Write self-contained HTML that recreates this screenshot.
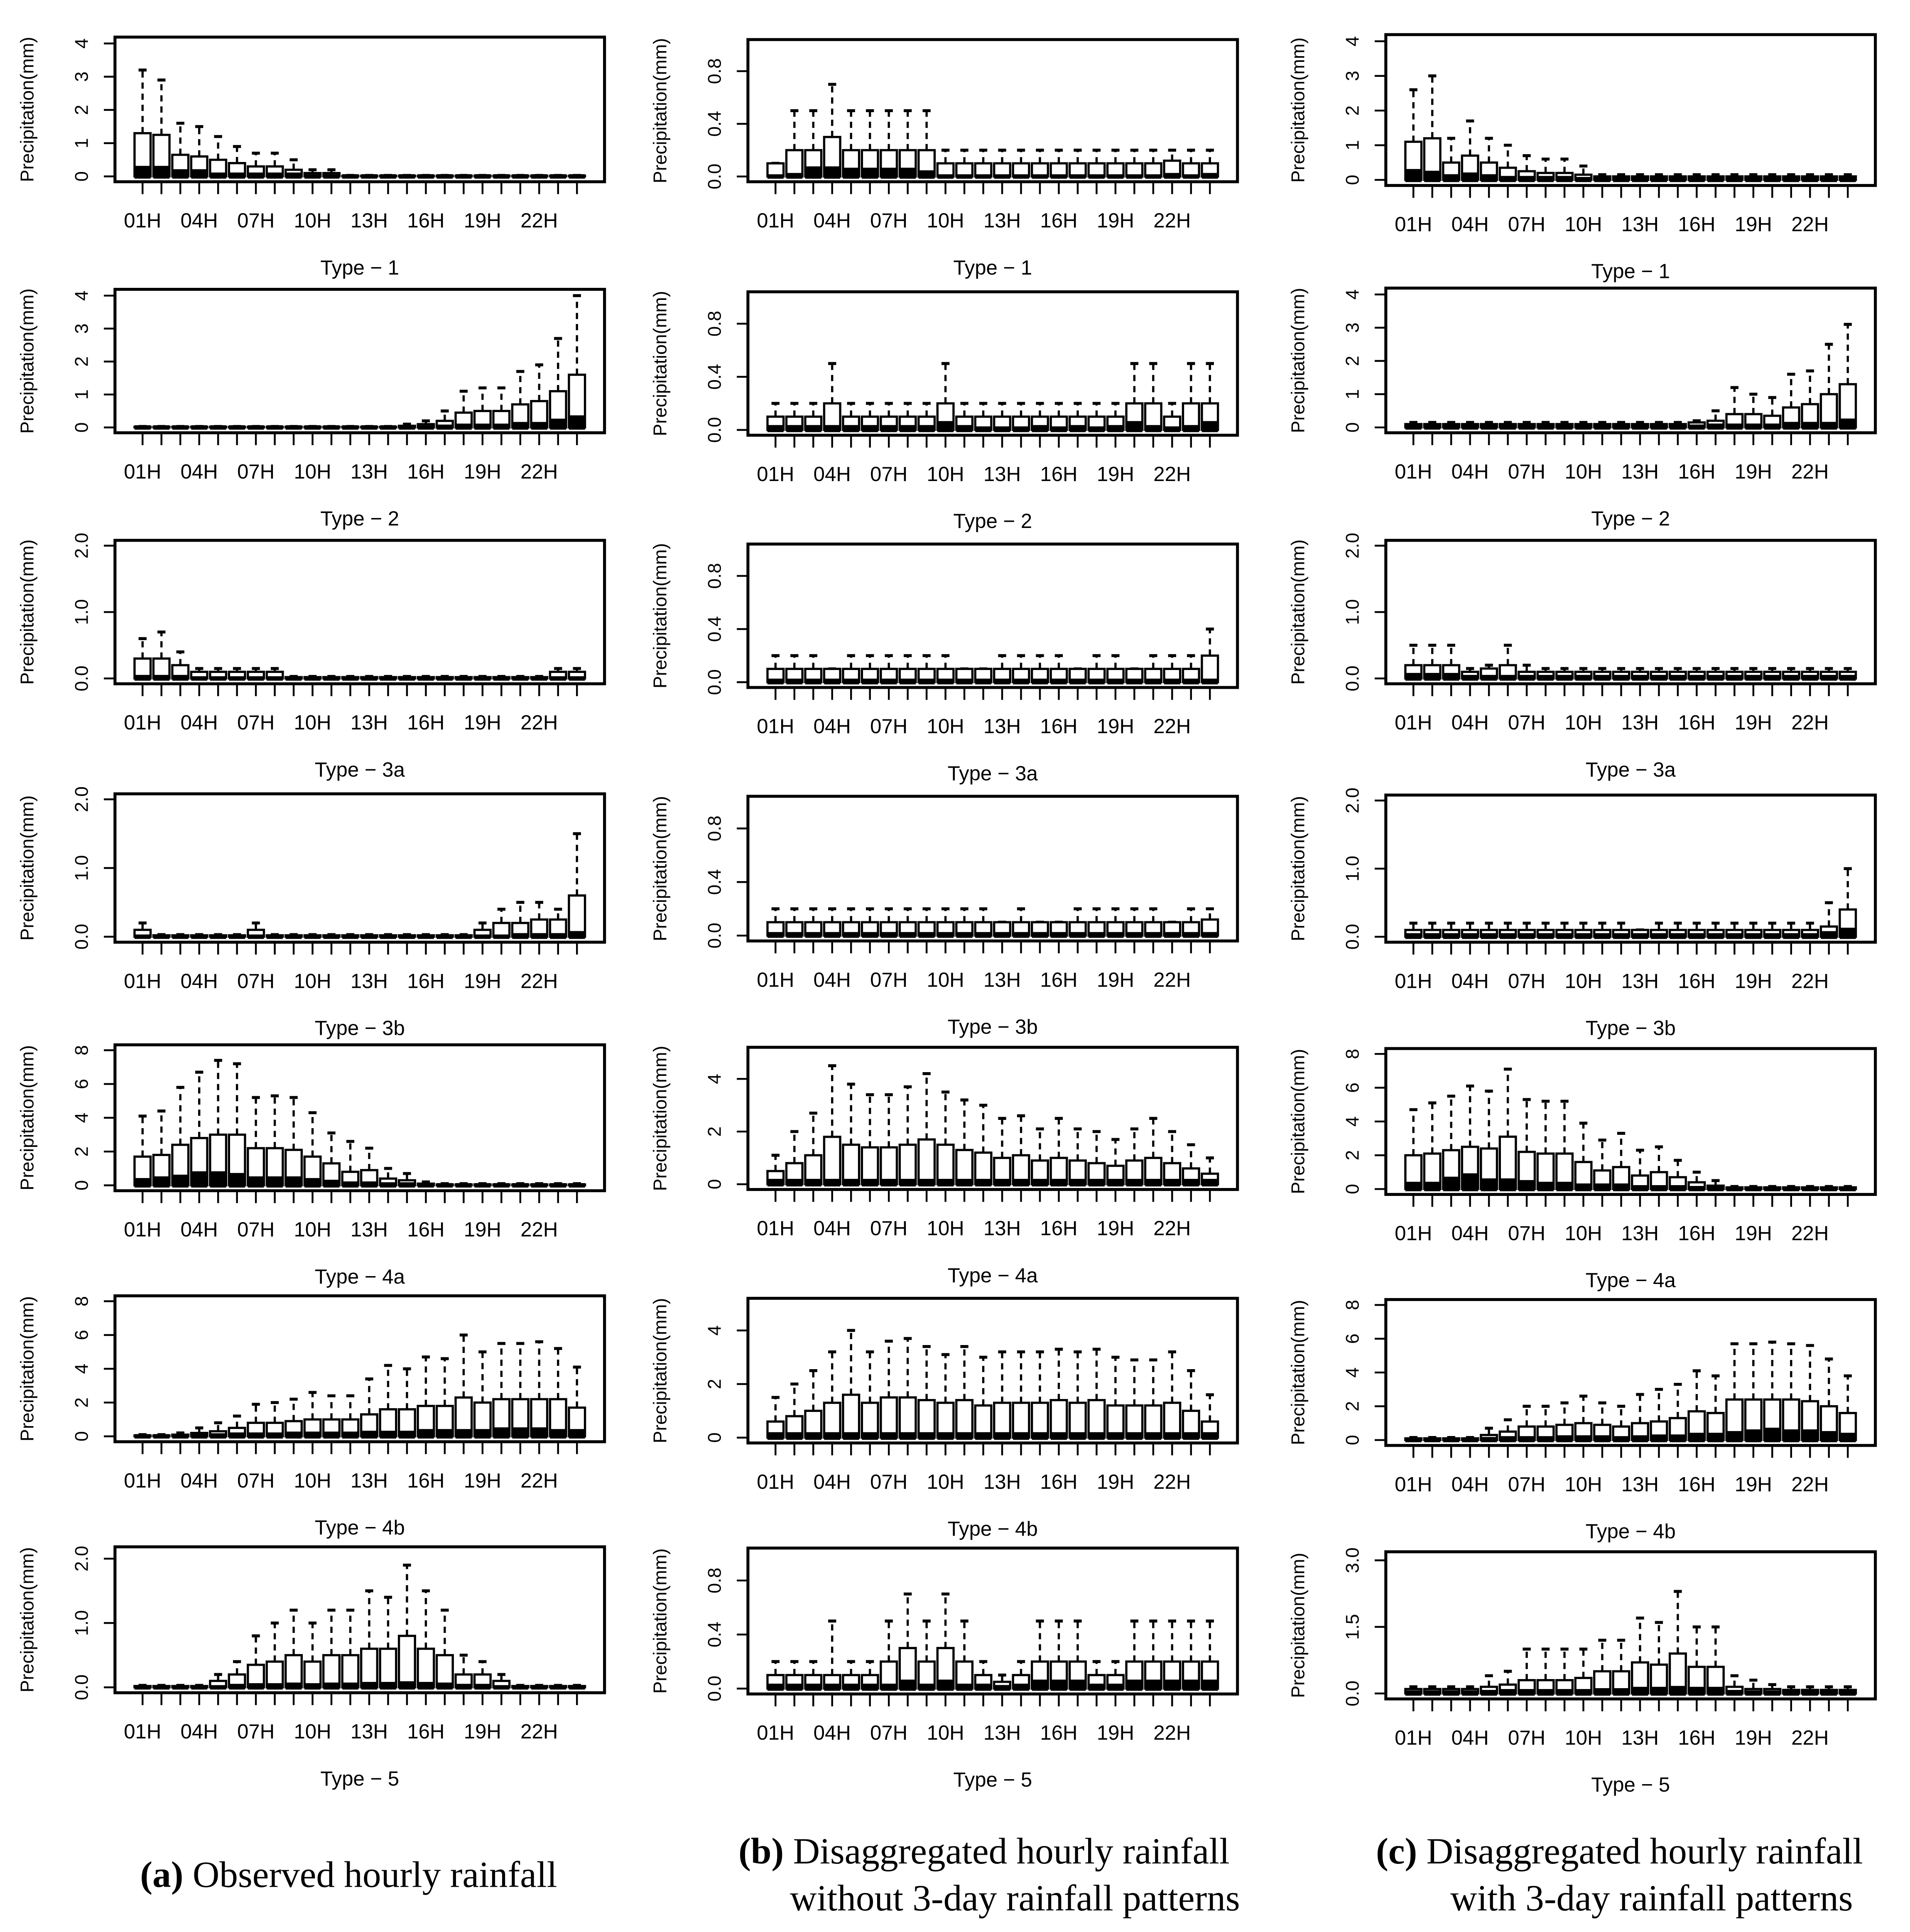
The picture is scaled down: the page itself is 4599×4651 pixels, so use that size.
<!DOCTYPE html>
<html><head><meta charset="utf-8">
<style>
html,body{margin:0;padding:0;background:#fff;}
svg{display:block;}
.tk{font-family:"Liberation Sans Narrow","Liberation Sans",sans-serif;font-size:16.5px;fill:#000;}
.yt{font-family:"Liberation Sans",sans-serif;font-size:15px;fill:#000;}
.cap{font-family:"Liberation Serif",serif;font-size:30px;fill:#000;}
</style></head>
<body>
<svg id="chart" xmlns="http://www.w3.org/2000/svg" width="4599" height="4651" viewBox="0 0 1545 1562.5">
<rect x="0" y="0" width="1545" height="1563" fill="#fff"/>
<text class="cap" x="282" y="1526" text-anchor="middle"><tspan font-weight="bold">(a)</tspan>  Observed hourly rainfall</text>
<text class="cap" x="796" y="1507" text-anchor="middle"><tspan font-weight="bold">(b)</tspan>  Disaggregated hourly rainfall</text>
<text class="cap" x="821" y="1545" text-anchor="middle">without 3-day rainfall patterns</text>
<text class="cap" x="1310" y="1507" text-anchor="middle"><tspan font-weight="bold">(c)</tspan>  Disaggregated hourly rainfall</text>
<text class="cap" x="1336" y="1545" text-anchor="middle">with 3-day rainfall patterns</text>
</svg>
<script>
const hours = ["01H","02H","03H","04H","05H","06H","07H","08H","09H","10H","11H","12H","13H","14H","15H","16H","17H","18H","19H","20H","21H","22H","23H","24H"];
const typeNames = ["Type \u2212 1","Type \u2212 2","Type \u2212 3a","Type \u2212 3b","Type \u2212 4a","Type \u2212 4b","Type \u2212 5"];

// column a: observed
const q3_a1 = [1.3,1.25,0.65,0.6,0.5,0.4,0.3,0.3,0.2,0.1,0.1,0.02,0.02,0.02,0.02,0.02,0.02,0.02,0.02,0.02,0.02,0.02,0.02,0.02];
const md_a1 = [0.25,0.25,0.15,0.15,0.05,0.05,0.05,0.05,0.05,0,0,0,0,0,0,0,0,0,0,0,0,0,0,0];
const wh_a1 = [3.2,2.9,1.6,1.5,1.2,0.9,0.7,0.7,0.5,0.2,0.2,0.03,0.03,0.03,0.03,0.03,0.03,0.03,0.03,0.03,0.03,0.03,0.03,0.03];
const q3_a2 = [0.02,0.02,0.02,0.02,0.02,0.02,0.02,0.02,0.02,0.02,0.02,0.02,0.02,0.02,0.05,0.1,0.2,0.45,0.5,0.5,0.7,0.8,1.1,1.6];
const md_a2 = [0,0,0,0,0,0,0,0,0,0,0,0,0,0,0,0,0.02,0.05,0.05,0.05,0.1,0.1,0.2,0.3];
const wh_a2 = [0.03,0.03,0.03,0.03,0.03,0.03,0.03,0.03,0.03,0.03,0.03,0.03,0.03,0.03,0.1,0.2,0.5,1.1,1.2,1.2,1.7,1.9,2.7,4.0];
const q3_a3 = [0.3,0.3,0.2,0.1,0.1,0.1,0.1,0.1,0.02,0.02,0.02,0.02,0.02,0.02,0.02,0.02,0.02,0.02,0.02,0.02,0.02,0.02,0.1,0.1];
const md_a3 = [0.02,0.02,0.02,0,0,0,0,0,0,0,0,0,0,0,0,0,0,0,0,0,0,0,0,0];
const wh_a3 = [0.6,0.7,0.4,0.15,0.15,0.15,0.15,0.15,0.03,0.03,0.03,0.03,0.03,0.03,0.03,0.03,0.03,0.03,0.03,0.03,0.03,0.03,0.15,0.15];
const q3_a4 = [0.1,0.02,0.02,0.02,0.02,0.02,0.1,0.02,0.02,0.02,0.02,0.02,0.02,0.02,0.02,0.02,0.02,0.02,0.1,0.2,0.2,0.25,0.25,0.6];
const md_a4 = [0,0,0,0,0,0,0,0,0,0,0,0,0,0,0,0,0,0,0,0,0.02,0.02,0.02,0.05];
const wh_a4 = [0.2,0.03,0.03,0.03,0.03,0.03,0.2,0.03,0.03,0.03,0.03,0.03,0.03,0.03,0.03,0.03,0.03,0.03,0.2,0.4,0.5,0.5,0.4,1.5];
const q3_a5 = [1.7,1.8,2.4,2.8,3.0,3.0,2.2,2.2,2.1,1.7,1.3,0.8,0.9,0.4,0.3,0.1,0.05,0.05,0.05,0.05,0.05,0.05,0.05,0.05];
const md_a5 = [0.3,0.4,0.5,0.7,0.7,0.6,0.4,0.4,0.4,0.3,0.2,0.1,0.1,0.05,0.05,0,0,0,0,0,0,0,0,0];
const wh_a5 = [4.1,4.4,5.8,6.7,7.4,7.2,5.2,5.3,5.2,4.3,3.1,2.6,2.2,1.0,0.7,0.2,0.1,0.1,0.1,0.1,0.1,0.1,0.1,0.1];
const q3_a6 = [0.05,0.05,0.1,0.2,0.3,0.5,0.8,0.8,0.9,1.0,1.0,1.0,1.3,1.6,1.6,1.8,1.8,2.3,2.0,2.2,2.2,2.2,2.2,1.7];
const md_a6 = [0,0,0,0.05,0.05,0.1,0.1,0.1,0.15,0.15,0.15,0.15,0.2,0.2,0.2,0.3,0.3,0.3,0.3,0.4,0.4,0.4,0.3,0.3];
const wh_a6 = [0.1,0.1,0.2,0.5,0.8,1.2,1.9,2.0,2.2,2.6,2.4,2.4,3.4,4.2,4.0,4.7,4.6,6.0,5.0,5.5,5.5,5.6,5.2,4.1];
const q3_a7 = [0.02,0.02,0.02,0.02,0.1,0.2,0.35,0.4,0.5,0.4,0.5,0.5,0.6,0.6,0.8,0.6,0.5,0.2,0.2,0.1,0.02,0.02,0.02,0.02];
const md_a7 = [0,0,0,0,0,0.02,0.03,0.03,0.04,0.03,0.04,0.04,0.05,0.05,0.06,0.05,0.04,0.02,0.02,0,0,0,0,0];
const wh_a7 = [0.03,0.03,0.03,0.03,0.2,0.4,0.8,1.0,1.2,1.0,1.2,1.2,1.5,1.4,1.9,1.5,1.2,0.5,0.4,0.2,0.03,0.03,0.03,0.03];

// column b: disaggregated without patterns
const q3_b1 = [0.1,0.2,0.2,0.3,0.2,0.2,0.2,0.2,0.2,0.1,0.1,0.1,0.1,0.1,0.1,0.1,0.1,0.1,0.1,0.1,0.1,0.12,0.1,0.1];
const md_b1 = [0,0.01,0.06,0.06,0.05,0.05,0.05,0.05,0.03,0,0,0,0,0,0,0,0,0,0,0,0,0.01,0,0.01];
const wh_b1 = [0.1,0.5,0.5,0.7,0.5,0.5,0.5,0.5,0.5,0.2,0.2,0.2,0.2,0.2,0.2,0.2,0.2,0.2,0.2,0.2,0.2,0.2,0.2,0.2];
const q3_b2 = [0.1,0.1,0.1,0.2,0.1,0.1,0.1,0.1,0.1,0.2,0.1,0.1,0.1,0.1,0.1,0.1,0.1,0.1,0.1,0.2,0.2,0.1,0.2,0.2];
const md_b2 = [0.02,0.02,0.02,0.02,0.02,0.02,0.02,0.02,0.02,0.05,0.02,0.01,0.01,0.01,0.02,0.01,0.02,0.01,0.02,0.05,0.02,0.01,0.02,0.05];
const wh_b2 = [0.2,0.2,0.2,0.5,0.2,0.2,0.2,0.2,0.2,0.5,0.2,0.2,0.2,0.2,0.2,0.2,0.2,0.2,0.2,0.5,0.5,0.2,0.5,0.5];
const q3_b3 = [0.1,0.1,0.1,0.1,0.1,0.1,0.1,0.1,0.1,0.1,0.1,0.1,0.1,0.1,0.1,0.1,0.1,0.1,0.1,0.1,0.1,0.1,0.1,0.2];
const md_b3 = [0.01,0.01,0.01,0.01,0.01,0.01,0.01,0.01,0.01,0.01,0.01,0.01,0.01,0.01,0.01,0.01,0.01,0.01,0.01,0.01,0.01,0.01,0.01,0.01];
const wh_b3 = [0.2,0.2,0.2,0.1,0.2,0.2,0.2,0.2,0.2,0.2,0.1,0.1,0.2,0.2,0.2,0.2,0.1,0.2,0.2,0.1,0.2,0.2,0.2,0.4];
const q3_b4 = [0.1,0.1,0.1,0.1,0.1,0.1,0.1,0.1,0.1,0.1,0.1,0.1,0.1,0.1,0.1,0.1,0.1,0.1,0.1,0.1,0.1,0.1,0.1,0.12];
const md_b4 = [0.01,0.01,0.01,0.01,0.01,0.01,0.01,0.01,0.01,0.01,0.01,0.01,0.01,0.01,0.01,0.01,0.01,0.01,0.01,0.01,0.01,0.01,0.01,0.01];
const wh_b4 = [0.2,0.2,0.2,0.2,0.2,0.2,0.2,0.2,0.2,0.2,0.2,0.2,0.1,0.2,0.1,0.1,0.2,0.2,0.2,0.2,0.2,0.1,0.2,0.2];
const q3_b5 = [0.5,0.8,1.1,1.8,1.5,1.4,1.4,1.5,1.7,1.5,1.3,1.2,1.0,1.1,0.9,1.0,0.9,0.8,0.7,0.9,1.0,0.8,0.6,0.4];
const md_b5 = [0.12,0.12,0.12,0.12,0.12,0.12,0.12,0.12,0.12,0.12,0.12,0.12,0.12,0.12,0.12,0.12,0.12,0.12,0.12,0.12,0.12,0.12,0.12,0.12];
const wh_b5 = [1.1,2.0,2.7,4.5,3.8,3.4,3.4,3.7,4.2,3.5,3.2,3.0,2.5,2.6,2.1,2.5,2.1,2.0,1.7,2.1,2.5,2.0,1.5,1.0];
const q3_b6 = [0.6,0.8,1.0,1.3,1.6,1.3,1.5,1.5,1.4,1.3,1.4,1.2,1.3,1.3,1.3,1.4,1.3,1.4,1.2,1.2,1.2,1.3,1.0,0.6];
const md_b6 = [0.12,0.12,0.12,0.12,0.12,0.12,0.12,0.12,0.12,0.12,0.12,0.12,0.12,0.12,0.12,0.12,0.12,0.12,0.12,0.12,0.12,0.12,0.12,0.12];
const wh_b6 = [1.5,2.0,2.5,3.2,4.0,3.2,3.6,3.7,3.4,3.1,3.4,3.0,3.2,3.2,3.2,3.3,3.2,3.3,3.0,2.9,2.9,3.2,2.5,1.6];
const q3_b7 = [0.1,0.1,0.1,0.1,0.1,0.1,0.2,0.3,0.2,0.3,0.2,0.1,0.05,0.1,0.2,0.2,0.2,0.1,0.1,0.2,0.2,0.2,0.2,0.2];
const md_b7 = [0.02,0.02,0.02,0.02,0.02,0.02,0.02,0.05,0.02,0.05,0.02,0.02,0.01,0.02,0.05,0.05,0.05,0.02,0.02,0.05,0.05,0.05,0.05,0.05];
const wh_b7 = [0.2,0.2,0.2,0.5,0.2,0.2,0.5,0.7,0.5,0.7,0.5,0.2,0.1,0.2,0.5,0.5,0.5,0.2,0.2,0.5,0.5,0.5,0.5,0.5];

// column c: disaggregated with patterns
const q3_c1 = [1.1,1.2,0.5,0.7,0.5,0.35,0.25,0.2,0.2,0.15,0.1,0.1,0.1,0.1,0.1,0.1,0.1,0.1,0.1,0.1,0.1,0.1,0.1,0.1];
const md_c1 = [0.25,0.2,0.1,0.15,0.1,0.05,0.05,0.05,0.05,0.02,0.02,0.02,0.02,0.02,0.02,0.02,0.02,0.02,0.02,0.02,0.02,0.02,0.02,0.02];
const wh_c1 = [2.6,3.0,1.2,1.7,1.2,1.0,0.7,0.6,0.6,0.4,0.15,0.15,0.15,0.15,0.15,0.15,0.15,0.15,0.15,0.15,0.15,0.15,0.15,0.15];
const q3_c2 = [0.1,0.1,0.1,0.1,0.1,0.1,0.1,0.1,0.1,0.1,0.1,0.1,0.1,0.1,0.1,0.15,0.2,0.4,0.4,0.35,0.6,0.7,1.0,1.3];
const md_c2 = [0.02,0.02,0.02,0.02,0.02,0.02,0.02,0.02,0.02,0.02,0.02,0.02,0.02,0.02,0.02,0.02,0.05,0.05,0.05,0.05,0.1,0.1,0.1,0.2];
const wh_c2 = [0.15,0.15,0.15,0.15,0.15,0.15,0.15,0.15,0.15,0.15,0.15,0.15,0.15,0.15,0.15,0.2,0.5,1.2,1.0,0.9,1.6,1.7,2.5,3.1];
const q3_c3 = [0.2,0.2,0.2,0.1,0.15,0.2,0.1,0.1,0.1,0.1,0.1,0.1,0.1,0.1,0.1,0.1,0.1,0.1,0.1,0.1,0.1,0.1,0.1,0.1];
const md_c3 = [0.05,0.05,0.05,0.02,0.02,0.02,0.02,0.02,0.02,0.02,0.02,0.02,0.02,0.02,0.02,0.02,0.02,0.02,0.02,0.02,0.02,0.02,0.02,0.02];
const wh_c3 = [0.5,0.5,0.5,0.15,0.2,0.5,0.2,0.15,0.15,0.15,0.15,0.15,0.15,0.15,0.15,0.15,0.15,0.15,0.15,0.15,0.15,0.15,0.15,0.15];
const q3_c4 = [0.1,0.1,0.1,0.1,0.1,0.1,0.1,0.1,0.1,0.1,0.1,0.1,0.1,0.1,0.1,0.1,0.1,0.1,0.1,0.1,0.1,0.1,0.15,0.4];
const md_c4 = [0.02,0.02,0.02,0.02,0.02,0.02,0.02,0.02,0.02,0.02,0.02,0.02,0.02,0.02,0.02,0.02,0.02,0.02,0.02,0.02,0.02,0.02,0.05,0.1];
const wh_c4 = [0.2,0.2,0.2,0.2,0.2,0.2,0.2,0.2,0.2,0.2,0.2,0.2,0.1,0.2,0.2,0.2,0.2,0.2,0.2,0.2,0.2,0.2,0.5,1.0];
const q3_c5 = [2.0,2.1,2.3,2.5,2.4,3.1,2.2,2.1,2.1,1.6,1.1,1.3,0.8,1.0,0.7,0.4,0.2,0.1,0.1,0.1,0.1,0.1,0.1,0.1];
const md_c5 = [0.3,0.3,0.6,0.8,0.5,0.5,0.4,0.3,0.3,0.2,0.2,0.2,0.1,0.1,0.1,0.05,0.02,0.02,0.02,0.02,0.02,0.02,0.02,0.02];
const wh_c5 = [4.7,5.1,5.5,6.1,5.8,7.1,5.3,5.2,5.2,3.9,2.9,3.3,2.3,2.5,1.7,1.0,0.5,0.15,0.15,0.15,0.15,0.15,0.15,0.15];
const q3_c6 = [0.1,0.1,0.1,0.1,0.3,0.5,0.8,0.8,0.9,1.0,0.9,0.8,1.0,1.1,1.3,1.7,1.6,2.4,2.4,2.4,2.4,2.3,2.0,1.6];
const md_c6 = [0.02,0.02,0.02,0.02,0.05,0.1,0.1,0.1,0.15,0.15,0.15,0.1,0.15,0.2,0.2,0.3,0.3,0.4,0.5,0.6,0.5,0.5,0.4,0.3];
const wh_c6 = [0.15,0.15,0.15,0.15,0.7,1.2,2.0,2.0,2.2,2.6,2.2,2.0,2.7,3.0,3.3,4.1,3.8,5.7,5.7,5.8,5.7,5.6,4.8,3.8];
const q3_c7 = [0.1,0.1,0.1,0.1,0.15,0.2,0.3,0.3,0.3,0.35,0.5,0.5,0.7,0.65,0.9,0.6,0.6,0.15,0.1,0.1,0.08,0.08,0.08,0.08];
const md_c7 = [0.02,0.02,0.02,0.02,0.03,0.05,0.05,0.05,0.05,0.05,0.07,0.07,0.1,0.1,0.12,0.1,0.1,0.03,0.02,0.02,0.02,0.02,0.02,0.02];
const wh_c7 = [0.15,0.15,0.15,0.15,0.4,0.5,1.0,1.0,1.0,1.0,1.2,1.2,1.7,1.6,2.3,1.5,1.5,0.4,0.3,0.2,0.15,0.15,0.15,0.15];

// axis maxima per panel
const ymax_a = [4.03,4.03,2.0,2.0,8.0,8.0,2.1];
const ymax_b = [1.0,1.0,1.0,1.0,5.0,5.0,1.0];
const ymax_c = [4.03,4.03,2.0,2.0,8.0,8.0,3.07];
const ticks_4 = [0,1,2,3,4];
const ticks_2 = [0,1,2];
const ticks_8 = [0,2,4,6,8];
const ticks_08 = [0,0.4,0.8];
const ticks_b4 = [0,2,4];
const ticks_3 = [0,1.5,3];

const NS = "http://www.w3.org/2000/svg";
const svg = document.getElementById("chart");
function mk(tag, attrs, parent){
  const e = document.createElementNS(NS, tag);
  for (const k in attrs) e.setAttribute(k, attrs[k]);
  (parent||svg).appendChild(e);
  return e;
}

const colX = {a:93, b:605, c:1121};
const colRows = {
  a:[[30,147],[234,350],[437,553],[642,762],[845,963],[1048,1166],[1251,1369]],
  b:[[32,147],[236,352],[440,556],[644,761],[847,962],[1050,1167],[1252,1370]],
  c:[[28,150],[233,350],[437,553],[643,762],[848,966],[1051,1169],[1255,1374]]
};
const data = {
  a:[[q3_a1,md_a1,wh_a1],[q3_a2,md_a2,wh_a2],[q3_a3,md_a3,wh_a3],[q3_a4,md_a4,wh_a4],[q3_a5,md_a5,wh_a5],[q3_a6,md_a6,wh_a6],[q3_a7,md_a7,wh_a7]],
  b:[[q3_b1,md_b1,wh_b1],[q3_b2,md_b2,wh_b2],[q3_b3,md_b3,wh_b3],[q3_b4,md_b4,wh_b4],[q3_b5,md_b5,wh_b5],[q3_b6,md_b6,wh_b6],[q3_b7,md_b7,wh_b7]],
  c:[[q3_c1,md_c1,wh_c1],[q3_c2,md_c2,wh_c2],[q3_c3,md_c3,wh_c3],[q3_c4,md_c4,wh_c4],[q3_c5,md_c5,wh_c5],[q3_c6,md_c6,wh_c6],[q3_c7,md_c7,wh_c7]]
};
const ymaxs = {a:ymax_a, b:ymax_b, c:ymax_c};
const tickSets = {
  a:[[ticks_4,0],[ticks_4,0],[ticks_2,1],[ticks_2,1],[ticks_8,0],[ticks_8,0],[ticks_2,1]],
  b:[[ticks_08,1],[ticks_08,1],[ticks_08,1],[ticks_08,1],[ticks_b4,0],[ticks_b4,0],[ticks_08,1]],
  c:[[ticks_4,0],[ticks_4,0],[ticks_2,1],[ticks_2,1],[ticks_8,0],[ticks_8,0],[ticks_3,1]]
};

["a","b","c"].forEach(col => {
  const x0 = colX[col], x1 = x0 + 396;
  colRows[col].forEach((r, ri) => {
    const y0 = r[0], y1 = r[1];
    const D = ymaxs[col][ri];
    const lo = -0.04*D, hi = 1.04*D;
    const ys = v => y1 - (v - lo)/(hi - lo)*(y1 - y0);
    const xs = i => x0 + (i + 1 - (0.5 - 0.04*24)) / (24*1.08) * 396;
    const g = mk("g", {});
    
    
    const [q3, md, wh] = data[col][ri];
    const bw = 396/(24*1.08)*0.85;
    for (let i=0;i<24;i++){
      const cx = xs(i);
      const bg = mk("g", {}, g);
      
      
      mk("line", {x1:cx, x2:cx, y1:ys(q3[i]), y2:ys(wh[i]), stroke:"#000","stroke-width":1.8,"stroke-dasharray":"5,4"}, bg);
      mk("line", {x1:cx-bw/4, x2:cx+bw/4, y1:ys(wh[i]), y2:ys(wh[i]), stroke:"#000","stroke-width":2.4}, bg);
      mk("rect", {x:cx-bw/2, y:ys(q3[i]), width:bw, height:Math.max(0.5, ys(0)-ys(q3[i])), fill:"#fff", stroke:"#000","stroke-width":1.8}, bg);
      mk("rect", {x:cx-bw/2, y:ys(md[i])-1.8, width:bw, height:ys(0)-ys(md[i])+3.6, fill:"#000"}, bg);
      mk("line", {x1:cx, x2:cx, y1:y1, y2:y1+10, stroke:"#000","stroke-width":1.5}, g);
    }
    const frame = mk("rect", {x:x0, y:y0, width:x1-x0, height:y1-y0, fill:"none", stroke:"#000","stroke-width":2.4}, g);
    
    
    for (let i=0;i<24;i+=3){
      const t = mk("text", {class:"tk", x:xs(i), y:y1+37, "text-anchor":"middle"}, g);
      
      
      t.textContent = hours[i];
    }
    const [tks, dec] = tickSets[col][ri];
    tks.forEach(v => {
      const yy = ys(v);
      mk("line", {x1:x0-9, x2:x0, y1:yy, y2:yy, stroke:"#000","stroke-width":1.5}, g);
      const t = mk("text", {class:"yt", x:x0-22, y:yy, "text-anchor":"middle", transform:"rotate(-90 "+(x0-22)+" "+yy+")"}, g);
      
      
      t.textContent = dec ? v.toFixed(1) : String(v);
    });
    const ylab = mk("text", {class:"yt", x:x0-66, y:(y0+y1)/2, "text-anchor":"middle", transform:"rotate(-90 "+(x0-66)+" "+((y0+y1)/2)+")"}, g);
    
    
    ylab.textContent = "Precipitation(mm)";
    const title = mk("text", {class:"tk", x:(x0+x1)/2, y:y1+75, "text-anchor":"middle"}, g);
    
    
    title.textContent = typeNames[ri];
  });
});
</script>
</body></html>
